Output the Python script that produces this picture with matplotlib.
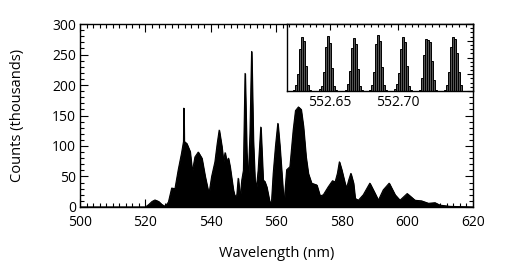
import matplotlib
matplotlib.use('Agg')
import matplotlib.pyplot as plt
from matplotlib.ticker import MultipleLocator

plt.rcParams['font.family'] = ['Open Sans', 'DejaVu Sans']

# main spectrum (nm, thousands of counts)
wavelength = [500, 520, 521, 522, 522.9, 524, 525, 526, 527, 528, 529, 530, 531,
              531.6, 531.7, 531.8, 531.9, 532.6, 533.6, 534.1, 534.4, 535.1,
              536.1, 537.2, 538.2, 539.2, 539.4, 540.2, 541.2, 541.9, 542.5,
              543.3, 543.8, 544.3, 544.8, 545.3, 545.8, 546.8, 547.3, 547.9,
              548.3, 548.9, 549.4, 549.9, 550.4, 550.9, 551.4, 551.9, 552.4,
              552.9, 553.4, 553.9, 554.4, 555.2, 555.9, 556.4, 557.0, 558.0,
              558.5, 559.0, 559.7, 560.4, 561.0, 561.6, 562.1, 562.4, 563.1,
              564.1, 565.1, 565.8, 566.7, 567.5, 568.2, 569.0, 569.7, 570.7,
              572.3, 573.3, 574.3, 575.8, 577.1, 577.9, 578.6, 579.2, 579.9,
              580.9, 581.4, 582.1, 582.7, 583.5, 584.0, 585.0, 586.5, 588.5,
              590.1, 591.1, 592.6, 594.4, 596.2, 597.7, 599.9, 602.3, 604.3,
              606.4, 608.4, 609.9, 613, 620]
counts = [0, 0, 4, 9, 11.5, 9, 4, 1, 8, 31, 30, 61, 88,
          107, 162, 107, 107, 104, 91, 66, 61, 82,
          90, 80, 50, 25, 22, 50, 74, 104, 126,
          99, 74, 89, 74, 80, 66, 28, 17, 20,
          47, 15, 44, 60, 219, 90, 46, 120, 255,
          110, 44, 33, 60, 131, 44, 42, 33, 6,
          10, 55, 100, 137, 100, 55, 17, 12, 61,
          66, 126, 158, 164, 160, 132, 82, 55, 39,
          36, 18, 20, 33, 43, 41, 55, 74, 61,
          39, 31, 45, 55, 39, 14, 11, 20, 39,
          22, 11, 28, 39, 20, 11, 22, 11, 10,
          6, 7, 3, 1, 0]

# inset: one histogram per fringe, bin heights (arbitrary units)
fringe_start = [552.6238, 552.6425, 552.6616, 552.6797, 552.6976, 552.7160, 552.7344]
fringe_heights = [
    [2, 9, 26, 63, 80, 74, 38, 9, 2],
    [3, 8, 28, 66, 82, 72, 35, 8, 1],
    [2, 10, 30, 64, 79, 70, 33, 7, 2],
    [2, 9, 29, 70, 84, 74, 36, 9, 1],
    [3, 10, 27, 62, 81, 73, 37, 8, 2],
    [2, 19, 53, 78, 76, 73, 45, 16, 1],
    [2, 9, 29, 66, 81, 77, 57, 28, 9],
]
bin_width = 0.00147

fig = plt.figure(figsize=(5.18, 2.65), dpi=100)
ax = fig.add_axes([0.1544, 0.2189, 0.7587, 0.6905])

ax.fill_between(wavelength, counts, color='black', lw=0.8)
ax.plot(wavelength, counts, color='black', lw=0.8)

ax.set_xlim(500, 620)
ax.set_ylim(0, 300)
ax.xaxis.set_major_locator(MultipleLocator(20))
ax.xaxis.set_minor_locator(MultipleLocator(2))
ax.yaxis.set_major_locator(MultipleLocator(50))
ax.yaxis.set_minor_locator(MultipleLocator(10))
ax.tick_params(which='both', direction='in', top=True, right=True,
               labelsize=10, width=0.8)
ax.tick_params(which='major', length=6)
ax.tick_params(which='minor', length=3)
ax.tick_params(axis='x', pad=6)
ax.tick_params(axis='y', pad=3)
for s in ax.spines.values():
    s.set_linewidth(1.0)

ax.set_xlabel('Wavelength (nm)', fontsize=10.5, labelpad=11)
ax.set_ylabel('Counts (thousands)', fontsize=10.5, labelpad=19)

# inset
ins = fig.add_axes([0.554, 0.6566, 0.3591, 0.2528])
for start, heights in zip(fringe_start, fringe_heights):
    xs = [start + k * bin_width for k in range(len(heights))]
    ins.bar(xs, heights, width=bin_width, color='#555555',
            edgecolor='black', linewidth=0.7)
ins.set_xlim(552.6184, 552.7551)
ins.set_ylim(0, 100)
ins.set_xticks([552.65, 552.70])
ins.set_xticklabels(['552.65', '552.70'])
ins.xaxis.set_minor_locator(MultipleLocator(0.005))
ins.yaxis.set_major_locator(MultipleLocator(25))
ins.yaxis.set_minor_locator(MultipleLocator(6.25))
ins.tick_params(which='both', direction='in', top=True, right=True,
                bottom=False, left=False, labelleft=False,
                labelsize=10, width=0.8, pad=3)
ins.tick_params(which='major', length=4)
ins.tick_params(which='minor', length=2.5)
for s in ins.spines.values():
    s.set_linewidth(1.0)

fig.savefig('out.png', dpi=100)
